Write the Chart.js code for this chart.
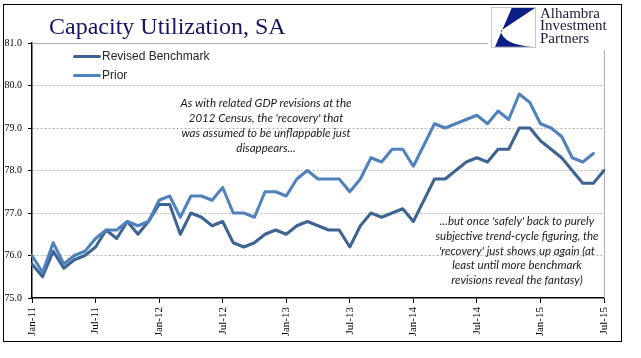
<!DOCTYPE html>
<html><head><meta charset="utf-8">
<script src="https://cdn.jsdelivr.net/npm/chart.js@4/dist/chart.umd.min.js"></script>
<style>
html,body{margin:0;padding:0;background:#fff;}
#wrap{position:relative;width:641px;height:358px;overflow:hidden;background:#fff;}
#c{position:absolute;left:0;top:0;}
#frame{position:absolute;left:2.5px;top:4px;width:617px;height:336px;border:1.6px solid #000;pointer-events:none;}
#title{position:absolute;left:49px;top:14px;font-family:"Liberation Serif",serif;font-size:24px;line-height:24px;color:#141464;white-space:nowrap;}
#logo{position:absolute;left:488px;top:6px;width:130px;height:44px;background:#fff;}
#logo svg{position:absolute;left:3px;top:1px;}
#logotext{position:absolute;left:52px;top:0.6px;font-family:"Liberation Serif",serif;font-size:15px;line-height:12.6px;color:#1c1c3a;white-space:nowrap;}
.ann{position:absolute;font-family:Lato,"Open Sans",sans-serif;font-style:italic;font-size:11.5px;color:#1a1a1a;text-align:center;white-space:nowrap;width:280px;}
#legend{position:absolute;left:73px;top:46.5px;font-family:"Liberation Sans",Arial,sans-serif;font-size:12px;color:#262626;}
.lrow{position:relative;height:19px;white-space:nowrap;}
.lline{position:absolute;left:0;top:8px;width:28px;height:3.5px;border-radius:2px;}
.ltext{position:absolute;left:29px;top:0;line-height:19px;}
</style></head>
<body>
<div id="wrap">
<canvas id="c" width="641" height="358"></canvas>
<div id="title">Capacity Utilization, SA</div>
<div id="logo">
<svg width="46" height="42" viewBox="0 0 46 42">
<rect x="0.5" y="0.5" width="44" height="40" fill="#fff" stroke="#c8c8c8" stroke-width="1"/>
<path d="M20.7 1 L44 1 L9.7 23.7 Q12.3 38 42.3 39.7 L4 39.7 Z" fill="#0b1e84"/>
</svg>
<div id="logotext">Alhambra<br>Investment<br>Partners</div>
</div>
<div class="ann" id="ann1" style="left:126px;top:95px;line-height:15.1px;">As with related GDP revisions at the<br>2012 Census, the 'recovery' that<br>was assumed to be unflappable just<br>disappears...</div>
<div class="ann" id="ann2" style="left:377px;top:214.4px;line-height:14.6px;">...but once 'safely' back to purely<br>subjective trend-cycle figuring, the<br>'recovery' just shows up again (at<br>least until more benchmark<br>revisions reveal the fantasy)</div>
<div id="legend"></div>
<div id="frame"></div>
</div>
<script>
const months = [
 "Jan-11","Feb-11","Mar-11","Apr-11","May-11","Jun-11","Jul-11","Aug-11","Sep-11","Oct-11","Nov-11","Dec-11",
 "Jan-12","Feb-12","Mar-12","Apr-12","May-12","Jun-12","Jul-12","Aug-12","Sep-12","Oct-12","Nov-12","Dec-12",
 "Jan-13","Feb-13","Mar-13","Apr-13","May-13","Jun-13","Jul-13","Aug-13","Sep-13","Oct-13","Nov-13","Dec-13",
 "Jan-14","Feb-14","Mar-14","Apr-14","May-14","Jun-14","Jul-14","Aug-14","Sep-14","Oct-14","Nov-14","Dec-14",
 "Jan-15","Feb-15","Mar-15","Apr-15","May-15","Jun-15","Jul-15"
];
const revisedBenchmark = [
 75.8,75.5,76.1,75.7,75.9,76.0,76.2,76.6,76.4,76.8,76.5,76.8,
 77.2,77.2,76.5,77.0,76.9,76.7,76.8,76.3,76.2,76.3,76.5,76.6,
 76.5,76.7,76.8,76.7,76.6,76.6,76.2,76.7,77.0,76.9,77.0,77.1,
 76.8,77.3,77.8,77.8,78.0,78.2,78.3,78.2,78.5,78.5,79.0,79.0,
 78.7,78.5,78.3,78.0,77.7,77.7,78.0
];
const prior = [
 76.0,75.6,76.3,75.8,76.0,76.1,76.4,76.6,76.6,76.8,76.7,76.8,
 77.3,77.4,76.9,77.4,77.4,77.3,77.6,77.0,77.0,76.9,77.5,77.5,
 77.4,77.8,78.0,77.8,77.8,77.8,77.5,77.8,78.3,78.2,78.5,78.5,
 78.1,78.6,79.1,79.0,79.1,79.2,79.3,79.1,79.4,79.2,79.8,79.6,
 79.1,79.0,78.8,78.3,78.2,78.4,null
];
const yTicks = [75,76,77,78,79,80,81];
const tickEvery = 6;

const framePlugin = {
  id:'frame',
  beforeDatasetsDraw(chart){
    const {ctx, chartArea:a} = chart;
    ctx.save();
    ctx.strokeStyle = '#b0b0b0';
    ctx.lineWidth = 1;
    ctx.beginPath();
    ctx.moveTo(a.left, Math.round(a.top)+0.5);
    ctx.lineTo(a.right, Math.round(a.top)+0.5);
    ctx.moveTo(Math.round(a.right)+0.5, a.top);
    ctx.lineTo(Math.round(a.right)+0.5, a.bottom);
    ctx.stroke();
    ctx.restore();
  }
};

const chart = new Chart(document.getElementById('c').getContext('2d'), {
  type:'line',
  data:{
    labels: months,
    datasets:[
      {label:'Revised Benchmark', data:revisedBenchmark, borderColor:'#3d6393', backgroundColor:'#3d6393', borderWidth:3, pointRadius:0, tension:0, fill:false, order:1, borderJoinStyle:'round', borderCapStyle:'round'},
      {label:'Prior', data:prior, borderColor:'#4f81bd', backgroundColor:'#4f81bd', borderWidth:3, pointRadius:0, tension:0, fill:false, order:0, borderJoinStyle:'round', borderCapStyle:'round'}
    ]
  },
  options:{
    responsive:false, animation:false, devicePixelRatio:1,
    layout:{padding:{left:0, top:43, right:37, bottom:0}},
    plugins:{legend:{display:false}, tooltip:{enabled:false}},
    scales:{
      x:{
        type:'category', offset:false,
        grid:{display:true, drawOnChartArea:false, drawTicks:true, tickLength:5, tickColor:'#000', tickWidth:1, color:'#000'},
        border:{display:true, color:'#000', width:1.5},
        ticks:{autoSkip:false, maxRotation:90, minRotation:90, padding:4, color:'#000',
          font:{family:'Liberation Serif', size:11},
          callback:(v,i)=> (i % tickEvery === 0) ? months[i] : null},
        afterFit:(s)=>{ s.height = 60; }
      },
      y:{
        min:yTicks[0], max:yTicks[yTicks.length-1],
        afterBuildTicks:(s)=>{ s.ticks = yTicks.map(v=>({value:v})); },
        ticks:{padding:6, color:'#000', font:{family:'Liberation Serif', size:10}, callback:v=>Number(v).toFixed(1)},
        grid:{color:(c)=> (c.tick && (c.tick.value===yTicks[0] || c.tick.value===yTicks[yTicks.length-1])) ? 'rgba(0,0,0,0)' : '#b3b3b3',
              lineWidth:1, tickLength:4, tickColor:'#000', drawTicks:true},
        border:{display:true, color:'#000', width:1.5, dash:[2,2]},
        afterFit:(s)=>{ s.width = 32; }
      }
    }
  },
  plugins:[framePlugin]
});

const leg = document.getElementById('legend');
chart.data.datasets.forEach(ds=>{
  const row = document.createElement('div'); row.className='lrow';
  const ln = document.createElement('div'); ln.className='lline'; ln.style.background = ds.borderColor;
  const tx = document.createElement('div'); tx.className='ltext'; tx.textContent = ds.label;
  row.appendChild(ln); row.appendChild(tx); leg.appendChild(row);
});
</script>
</body></html>
